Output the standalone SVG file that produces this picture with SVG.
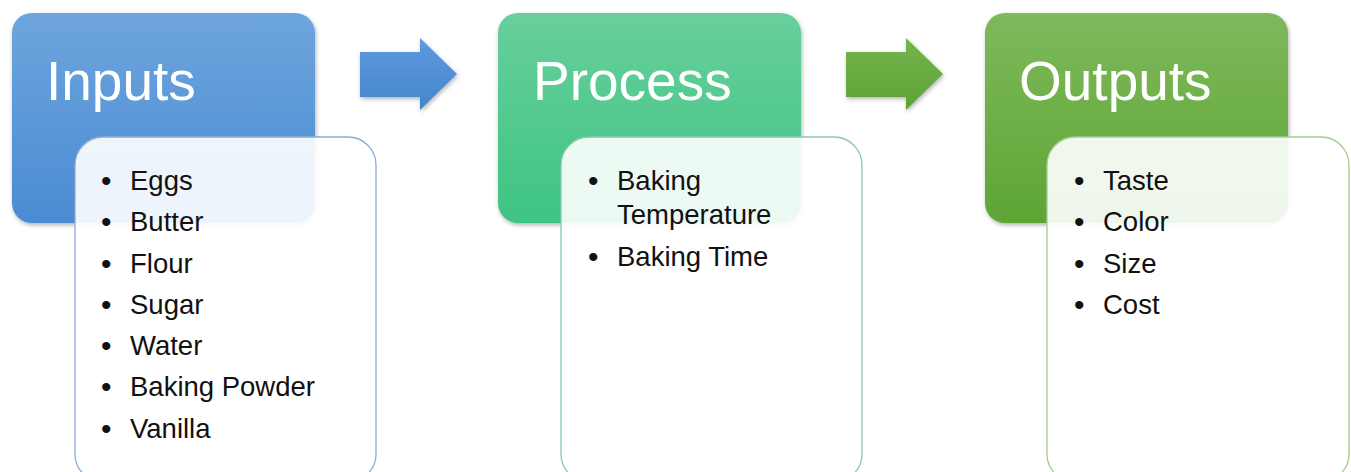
<svg xmlns="http://www.w3.org/2000/svg" width="1351" height="472" viewBox="0 0 1351 472">
<style>
.title{font-family:"Liberation Sans",Arial,sans-serif;font-size:55px;fill:#ffffff}
.item{font-family:"Liberation Sans",Arial,sans-serif;font-size:27.5px;fill:#111111}
.b{font-size:30px}
.list{fill:#ffffff;fill-opacity:0.9;stroke-width:1.3}
</style>
<defs>
<linearGradient id="gBlue" x1="0" y1="0" x2="0" y2="1"><stop offset="0" stop-color="#6ea5dd"/><stop offset="1" stop-color="#4a8bd3"/></linearGradient>
<linearGradient id="gTeal" x1="0" y1="0" x2="0" y2="1"><stop offset="0" stop-color="#68cf9c"/><stop offset="1" stop-color="#3ec483"/></linearGradient>
<linearGradient id="gGreen" x1="0" y1="0" x2="0" y2="1"><stop offset="0" stop-color="#7eb95c"/><stop offset="1" stop-color="#5ea535"/></linearGradient>
<linearGradient id="aBlue" x1="0" y1="0" x2="0" y2="1"><stop offset="0" stop-color="#5d9ae0"/><stop offset="1" stop-color="#4585cc"/></linearGradient>
<linearGradient id="aGreen" x1="0" y1="0" x2="0" y2="1"><stop offset="0" stop-color="#74b44e"/><stop offset="1" stop-color="#5ea336"/></linearGradient>
<filter id="sh" x="-10%" y="-10%" width="125%" height="125%"><feDropShadow dx="1" dy="2" stdDeviation="2" flood-color="#000" flood-opacity="0.3"/></filter>
</defs>
<g id="connectors">
<path d="M360,52 H420 V38 L457,74 L420,110 V97 H360 Z" fill="url(#aBlue)" filter="url(#sh)"/>
<path d="M846,52 H906 V38 L943,74 L906,110 V97 H846 Z" fill="url(#aGreen)" filter="url(#sh)"/>
</g>
<g id="inputs">
<rect x="12" y="13" width="303" height="210" rx="20" fill="url(#gBlue)" filter="url(#sh)"/>
<text class="title" x="46" y="100">Inputs</text>
</g>
<g id="inputs-list">
<rect class="list" x="75" y="137" width="301" height="345" rx="28" stroke="#8eaad6"/>
<g class="item">
<text class="b" x="101" y="191">•</text><text x="130" y="190">Eggs</text>
<text class="b" x="101" y="232">•</text><text x="130" y="231">Butter</text>
<text class="b" x="101" y="274">•</text><text x="130" y="273">Flour</text>
<text class="b" x="101" y="315">•</text><text x="130" y="314">Sugar</text>
<text class="b" x="101" y="356">•</text><text x="130" y="355">Water</text>
<text class="b" x="101" y="397">•</text><text x="130" y="396">Baking Powder</text>
<text class="b" x="101" y="439">•</text><text x="130" y="438">Vanilla</text>
</g>
</g>
<g id="process">
<rect x="498" y="13" width="303" height="210" rx="20" fill="url(#gTeal)" filter="url(#sh)"/>
<text class="title" x="533" y="100">Process</text>
</g>
<g id="process-list">
<rect class="list" x="561" y="137" width="301" height="345" rx="28" stroke="#86c9ad"/>
<g class="item">
<text class="b" x="588" y="191">•</text><text x="617" y="190">Baking</text>
<text x="617" y="224">Temperature</text>
<text class="b" x="588" y="267">•</text><text x="617" y="266">Baking Time</text>
</g>
</g>
<g id="outputs">
<rect x="985" y="13" width="303" height="210" rx="20" fill="url(#gGreen)" filter="url(#sh)"/>
<text class="title" x="1019" y="100">Outputs</text>
</g>
<g id="outputs-list">
<rect class="list" x="1047" y="137" width="302" height="345" rx="28" stroke="#a6cc8c"/>
<g class="item">
<text class="b" x="1074" y="191">•</text><text x="1103" y="190">Taste</text>
<text class="b" x="1074" y="232">•</text><text x="1103" y="231">Color</text>
<text class="b" x="1074" y="274">•</text><text x="1103" y="273">Size</text>
<text class="b" x="1074" y="315">•</text><text x="1103" y="314">Cost</text>
</g>
</g>
</svg>
